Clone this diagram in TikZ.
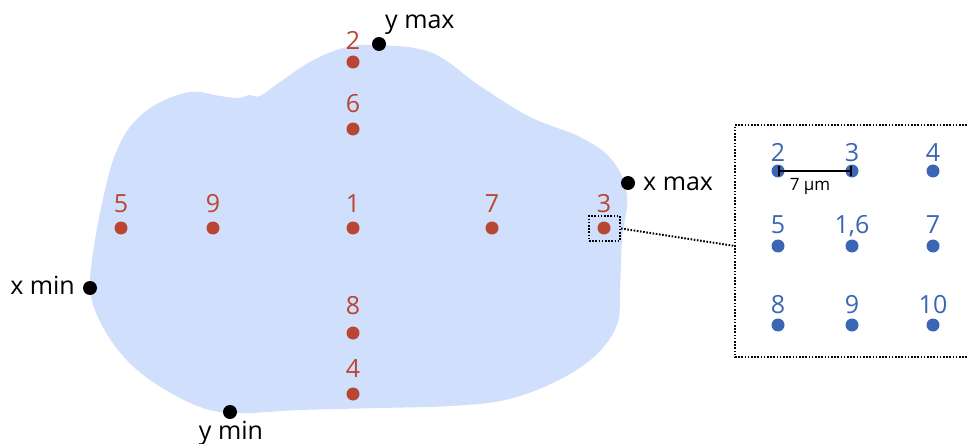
\documentclass[tikz,border=0pt]{standalone}
\usepackage{fontspec}
\setmainfont{Open Sans}
\definecolor{blobfill}{HTML}{CFDFFC}
\definecolor{redpt}{HTML}{B94632}
\definecolor{bluept}{HTML}{3A66B5}
\begin{document}
\begin{tikzpicture}[x=1pt,y=-1pt,
  reddot/.style={circle,fill=redpt,inner sep=0pt,minimum size=13pt},
  bluedot/.style={circle,fill=bluept,inner sep=0pt,minimum size=13pt},
  blackdot/.style={circle,fill=black,inner sep=0pt,minimum size=14pt},
  redlab/.style={text=redpt,font=\fontsize{25}{25}\selectfont,inner sep=0pt},
  bluelab/.style={text=bluept,font=\fontsize{25}{25}\selectfont,inner sep=0pt},
  blacklab/.style={text=black,font=\fontsize{25}{25}\selectfont,inner sep=0pt},
  dotline/.style={line width=2pt,dash pattern=on 1.6pt off 1.6pt}]
\useasboundingbox (0,0) rectangle (967,444);
% blob
\fill[blobfill] plot[smooth cycle,tension=0.6] coordinates {
(370,45) (430,52) (480,86) (530,117) (580,137) (612,160) (627,195) (622,240)
(620,290) (617,325) (595,356) (555,382) (505,400) (450,406) (380,408) (300,410)
(240,413) (200,407) (150,380) (118,350) (97,315) (90,285) (95,240) (105,190)
(115,155) (130,127) (155,105) (190,92) (220,96) (238,98) (250,95) (260,96)
(280,82) (310,62) (340,49)};
% red points
\foreach \n/\x/\y/\o in {2/353/62/12,6/353/129/17,5/121/228/16,9/213/228/16,1/353/228/16,7/492/228/16,3/604/228/16,8/353/333/19,4/353/394/17}{
  \node[reddot] (r\n) at (\x,\y) {};
  \node[redlab,anchor=base] (lr\n) at (\x,\y-\o) {\n};
}
% extreme points
\node[blackdot] (ymax) at (379,44) {};
\node[blacklab,anchor=base west] (lymax) at (385,29) {y max};
\node[blackdot] (xmax) at (628,183) {};
\node[blacklab,anchor=base west] (lxmax) at (643,190) {x max};
\node[blackdot] (xmin) at (90,288) {};
\node[blacklab,anchor=base east] (lxmin) at (75,294) {x min};
\node[blackdot] (ymin) at (230,412) {};
\node[blacklab,anchor=base] (lymin) at (231,439) {y min};
% zoom box
\node[draw,dotline,minimum width=31pt,minimum height=25pt,inner sep=0pt] (zb) at (604.5,228.5) {};
\draw[dotline] (967,125) -- (735,125) -- (735,357) -- (967,357);
\coordinate (bl) at (735,246);
\draw[dotline] (zb.east) -- (bl);
% blue grid
\foreach \lab/\nm/\x/\y/\o in {2/b2/778/171/10,3/b3/852/171/10,4/b4/933/171/10,5/b5/778/246/13,{1,6}/b16/852/246/13,7/b7/933/246/13,8/b8/778/325/12,9/b9/852/325/12,10/b10/933/325/12}{
  \node[bluedot] (\nm) at (\x,\y) {};
  \node[bluelab,anchor=base] at (\x,\y-\o) {\lab};
}
\draw[line width=1.6pt,|-|] (b2.center) -- (b3.center);
\node[font=\fontsize{17}{17}\selectfont,anchor=base,inner sep=0pt] (sc) at (810,190) {7 μm};
\end{tikzpicture}
\end{document}
